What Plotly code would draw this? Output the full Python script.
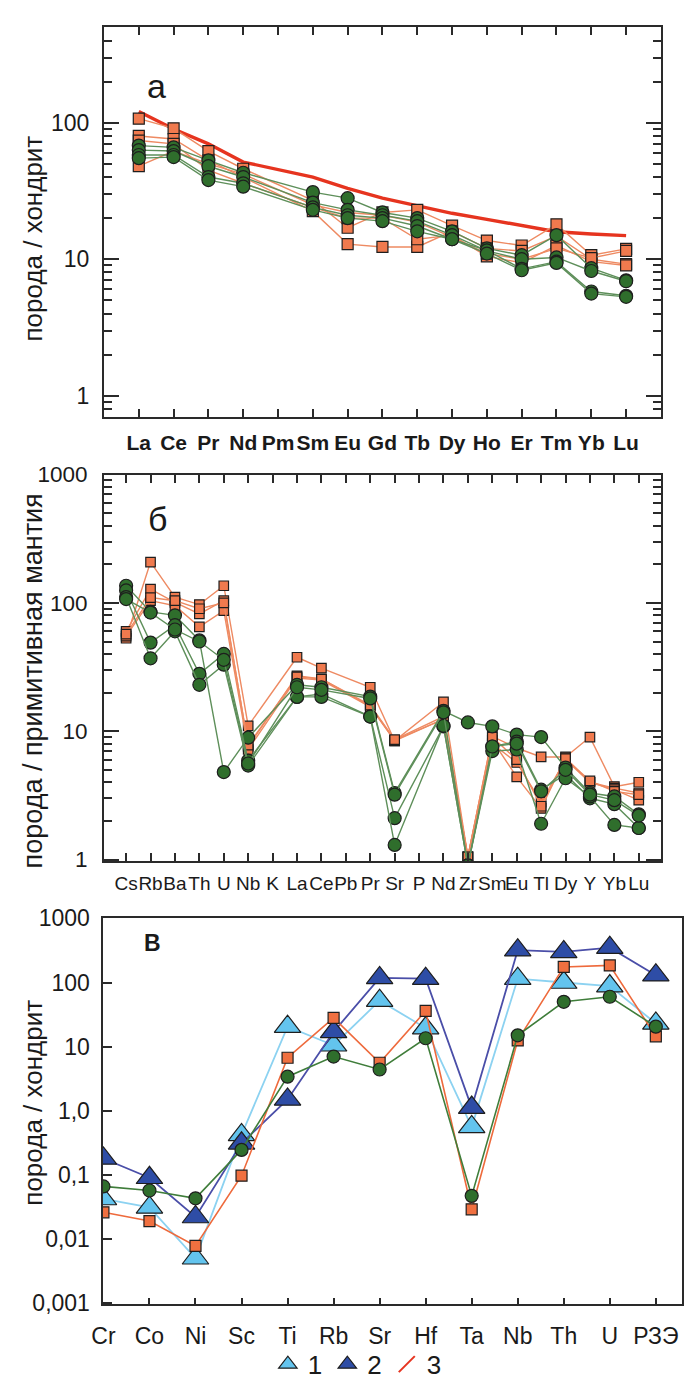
import plotly.graph_objects as go

W, H = 686, 1389

# ---------------- Panel a: REE, chondrite-normalised ----------------
ree = ["La", "Ce", "Pr", "Nd", "Pm", "Sm", "Eu", "Gd", "Tb", "Dy", "Ho", "Er", "Tm", "Yb", "Lu"]
a_red = [121, 90, 70, 51.5, None, 40, 33, 28, 24.5, 21.7, 19.6, 17.6, 15.9, 15.3, 14.9]
a_sq1 = [107, 91, 62, 46, None, 27, 17, 22, 23, 17.6, 13.7, 12.6, 18, 10.7, 11.9]
a_sq2 = [80, 76, 53, 40, None, 22.5, 12.9, 12.3, 12.3, 16, 12, 11.5, 14.8, 10, 9.2]
a_sq3 = [74, 70, 45, 36, None, 24, 20, 20, 14, 15, 10.5, 9.4, 12.6, 9.6, 9.0]
a_sq4 = [48, 62, 50, 42, None, 25, 22, 21, 18.7, 14.5, 11, 10, 12, 10.2, 11.5]
a_ci1 = [68, 66, 53, 43, None, 31, 28, 22, 20, 16, 12, 10.7, 15, 8.6, 7.0]
a_ci2 = [63, 62, 48, 40, None, 26, 23, 21, 19, 15, 11.5, 10, 10.3, 8.2, 6.9]
a_ci3 = [58, 58, 40, 36, None, 24, 21, 20, 17.5, 14, 11.6, 8.5, 9.6, 5.8, 5.4]
a_ci4 = [55, 56, 38, 34, None, 23, 20, 19, 16, 14, 11, 8.3, 9.4, 5.6, 5.3]

# ---------------- Panel b: primitive-mantle normalised ----------------
spider = ["Cs", "Rb", "Ba", "Th", "U", "Nb", "K", "La", "Ce", "Pb", "Pr", "Sr", "P",
          "Nd", "Zr", "Sm", "Eu", "Tl", "Dy", "Y", "Yb", "Lu"]
b_sq1 = [53, 208, 111, 97, 136, 11, None, 37.7, 31, None, 22, 8.4, None, 16.9, 1.05, 9.1, 7.4, 6.3, 6.3, 9.0, 3.7, 4.0]
b_sq2 = [60, 128, 101, 82, 104, 7.6, None, 27, 25.5, None, 15.7, 8.4, None, 12.4, 1.05, 8.0, 5.7, 2.8, 6.0, 4.0, 3.6, 3.3]
b_sq3 = [55, 104, 95, 65, 87, 7.2, None, 26, 25, None, 15.5, 8.5, None, 12.4, 1.05, 8.5, 4.4, 2.5, 6.2, 4.0, 3.5, 2.9]
b_sq4 = [57, 110, 104, 90, 100, 7.8, None, 26.5, 25.5, None, 16, 8.6, None, 13, 1.05, 9.0, 6.0, 2.6, 6.1, 4.1, 3.4, 3.2]
b_ci1 = [136, 85, 80, 51, 4.8, 8.9, None, 23, 22, None, 18.6, 3.3, None, 14.4, 11.7, 10.9, 9.4, 9.0, 5.2, 3.3, 3.1, 2.25]
b_ci2 = [125, 49, 67, 28, 40, 5.9, None, 18.5, 19.5, None, 13, 2.1, None, 10.9, 0.9, 7.6, 8.3, 3.5, 4.6, 3.0, 2.7, 1.76]
b_ci3 = [111, 37, 60, 23, 33, 5.4, None, 18.5, 18.5, None, 13, 1.3, None, 11, 0.9, 7.0, 7.2, 1.9, 4.3, 3.1, 1.86, 1.76]
b_ci4 = [107, 84, 62, 50, 36, 5.6, None, 22, 21, None, 18, 3.2, None, 14, 0.9, 7.6, 8.0, 3.4, 5.0, 3.2, 2.9, 2.2]

# ---------------- Panel c: chondrite-normalised trace elements ----------------
elems_c = ["Cr", "Co", "Ni", "Sc", "Ti", "Rb", "Sr", "Hf", "Ta", "Nb", "Th", "U", "РЗЭ"]
c_s1 = [0.042, 0.031, 0.005, 0.42, 20.5, 10.5, 52, 19.5, 0.56, 115, 100, 88, 23]
c_s2 = [0.18, 0.09, 0.022, 0.31, 1.5, 17, 118, 115, 1.12, 320, 300, 350, 130]
c_sq = [0.026, 0.019, 0.0078, 0.097, 6.7, 28, 5.6, 36, 0.029, 12.5, 175, 185, 14.5]
c_ci = [0.066, 0.057, 0.043, 0.245, 3.4, 7.0, 4.4, 13.5, 0.047, 15, 50, 60, 20.5]

c_ticks = [1000, 100, 10, 1, 0.1, 0.01, 0.001]
c_ticktext = ["1000", "100", "10", "1,0", "0,1", "0,01", "0,001"]
legend_names = ["1", "2", "3"]

# ---------------- styles ----------------
FONT = "Liberation Sans, Arial, sans-serif"
AX = "#2a2a2a"
TXT = "#1a1a1a"
OR_FILL, OR_LINE = "#F07A4E", "#EE8A62"
GR_FILL, GR_LINE = "#2F6E2C", "#5E8F5A"
RED = "#E6341F"
LB_FILL, LB_LINE = "#63C4EE", "#8CD2F1"
DB_FILL, DB_LINE = "#2E4DA6", "#4A4EA8"
C_OR_FILL, C_OR_LINE = "#F07040", "#EE6A3C"
C_GR_LINE = "#3F7D3A"


def px_x(x):
    return x / W


def px_y(y):
    return 1 - y / H


fig = go.Figure()


def series(xv, yv, xa, ya, sym, fill, size, lcol, lw):
    fig.add_trace(go.Scatter(
        x=xv, y=yv, xaxis=xa, yaxis=ya, mode="lines+markers", connectgaps=True,
        line=dict(color=lcol, width=lw),
        marker=dict(symbol=sym, size=size, color=fill, line=dict(color="#1e1e1e", width=1.2)),
        showlegend=False, hoverinfo="skip"))


# panel a
fig.add_trace(go.Scatter(x=ree, y=a_red, xaxis="x", yaxis="y", mode="lines", connectgaps=True,
                         line=dict(color=RED, width=3.4), showlegend=False, hoverinfo="skip"))
for s in (a_sq1, a_sq2, a_sq3, a_sq4):
    series(ree, s, "x", "y", "square", OR_FILL, 11, OR_LINE, 1.4)
for s in (a_ci1, a_ci2, a_ci3, a_ci4):
    series(ree, s, "x", "y", "circle", GR_FILL, 13, GR_LINE, 1.4)

# panel b
for s in (b_sq1, b_sq2, b_sq3, b_sq4):
    series(spider, s, "x2", "y2", "square", OR_FILL, 9.5, OR_LINE, 1.4)
for s in (b_ci1, b_ci2, b_ci3, b_ci4):
    series(spider, s, "x2", "y2", "circle", GR_FILL, 13, GR_LINE, 1.4)

# panel c
series(elems_c, c_s1, "x3", "y3", "triangle-up", LB_FILL, 23, LB_LINE, 1.8)
series(elems_c, c_s2, "x3", "y3", "triangle-up", DB_FILL, 23, DB_LINE, 1.8)
series(elems_c, c_sq, "x3", "y3", "square", C_OR_FILL, 11, C_OR_LINE, 1.6)
series(elems_c, c_ci, "x3", "y3", "circle", GR_FILL, 13, C_GR_LINE, 1.6)

# legend entries (symbols only, no plotted points)
fig.add_trace(go.Scatter(x=[None], y=[None], xaxis="x3", yaxis="y3", mode="markers", name=legend_names[0],
                         marker=dict(symbol="triangle-up", size=20, color=LB_FILL, line=dict(color="#1e1e1e", width=1.2))))
fig.add_trace(go.Scatter(x=[None], y=[None], xaxis="x3", yaxis="y3", mode="markers", name=legend_names[1],
                         marker=dict(symbol="triangle-up", size=20, color=DB_FILL, line=dict(color="#1e1e1e", width=1.2))))
fig.add_trace(go.Scatter(x=[None], y=[None], xaxis="x3", yaxis="y3", mode="markers", name=legend_names[2],
                         marker=dict(symbol="line-ne", size=20, color=RED, line=dict(color=RED, width=2))))

minor_a = [0.7, 0.8, 0.9] + list(range(2, 10)) + list(range(20, 100, 10)) + [200, 300, 400, 500]
minor_b = list(range(2, 10)) + list(range(20, 100, 10)) + list(range(200, 1000, 100))


def xcat(cats, rng, dom, anchor, font, mirror, ticklen, standoff):
    return dict(type="category", categoryorder="array", categoryarray=cats, range=rng, domain=dom,
                anchor=anchor, tickmode="array", tickvals=cats, ticktext=cats, tickangle=0,
                ticks="inside", ticklen=ticklen, tickwidth=1.6, tickcolor=AX,
                showline=True, linewidth=2, linecolor=AX, mirror=mirror,
                showgrid=False, zeroline=False, tickfont=font, ticklabelstandoff=standoff, fixedrange=True)


def ylog(rng, dom, anchor, tv, tt, minor, font, mirror, ticklen, standoff):
    d = dict(type="log", range=rng, domain=dom, anchor=anchor, tickmode="array", tickvals=tv, ticktext=tt,
             ticks="inside", ticklen=ticklen, tickwidth=2, tickcolor=AX,
             showline=True, linewidth=2, linecolor=AX, mirror=mirror,
             showgrid=False, zeroline=False, tickfont=font, ticklabelstandoff=standoff, fixedrange=True)
    if minor is not None:
        d["minor"] = dict(tickmode="array", tickvals=minor, ticks="inside", ticklen=8, tickwidth=1.6,
                          tickcolor=AX, showgrid=False)
    return d


xdom_ab = [px_x(94.5), px_x(660.5)]
xdom_c = [px_x(93), px_x(682)]

fig.update_layout(
    width=W, height=H, margin=dict(l=0, r=0, t=0, b=0),
    paper_bgcolor="white", plot_bgcolor="white",
    font=dict(family=FONT, color=TXT),
    xaxis=xcat(ree, [-1, 15], xdom_ab, "y", dict(family=FONT, size=21, weight="bold", color=TXT),
               "allticks", 8, 6),
    yaxis=ylog([-0.153, 2.703], [px_y(411), px_y(14)], "x", [1, 10, 100], ["1", "10", "100"], minor_a,
               dict(family=FONT, size=23, color=TXT), "allticks", 15, 8),
    xaxis2=xcat(spider, [-0.907, 21.907], xdom_ab, "y2", dict(family=FONT, size=19, color=TXT),
                "allticks", 8, 4),
    yaxis2=ylog([-0.015, 3.0], [px_y(864), px_y(470)], "x2", [1, 10, 100, 1000], ["1", "10", "100", "1000"],
                minor_b, dict(family=FONT, size=22.5, color=TXT), "allticks", 15, 10),
    xaxis3=xcat(elems_c, [-0.02, 12.57], xdom_c, "y3", dict(family=FONT, size=23, color=TXT),
                True, 6, 10),
    yaxis3=ylog([-3.02, 3.0], [px_y(1315), px_y(922)], "x3", c_ticks, c_ticktext, None,
                dict(family=FONT, size=23, color=TXT), True, 9, 6),
    showlegend=True,
    legend=dict(orientation="h", x=px_x(352), y=px_y(1376), xanchor="center", yanchor="middle",
                font=dict(family=FONT, size=26, color=TXT), itemwidth=30, itemsizing="trace",
                bgcolor="rgba(0,0,0,0)", tracegroupgap=0),
)

annos = [
    dict(text="порода / хондрит", x=px_x(22), y=px_y(230), font=dict(family=FONT, size=26, color=TXT)),
    dict(text="порода / примитивная мантия", x=px_x(22), y=px_y(680), font=dict(family=FONT, size=27, color=TXT)),
    dict(text="порода / хондрит", x=px_x(22), y=px_y(1110), font=dict(family=FONT, size=26, color=TXT)),
]
for a in annos:
    fig.add_annotation(xref="paper", yref="paper", textangle=-90, showarrow=False,
                       xanchor="center", yanchor="middle", **a)

fig.add_annotation(xref="paper", yref="paper", x=px_x(136), y=px_y(53), text="а", showarrow=False,
                   font=dict(family=FONT, size=34, color=TXT))
fig.add_annotation(xref="paper", yref="paper", x=px_x(137), y=px_y(515), text="б", showarrow=False,
                   font=dict(family=FONT, size=34, color=TXT))
fig.add_annotation(xref="paper", yref="paper", x=px_x(133), y=px_y(962), text="В", showarrow=False,
                   font=dict(family=FONT, size=23, weight="bold", color=TXT))

# remove the browser's default page margin so the figure starts at the window corner
fig.write_html("out.html", config={"displayModeBar": False},
               post_script="document.body.style.margin='0';document.body.style.padding='0';")
